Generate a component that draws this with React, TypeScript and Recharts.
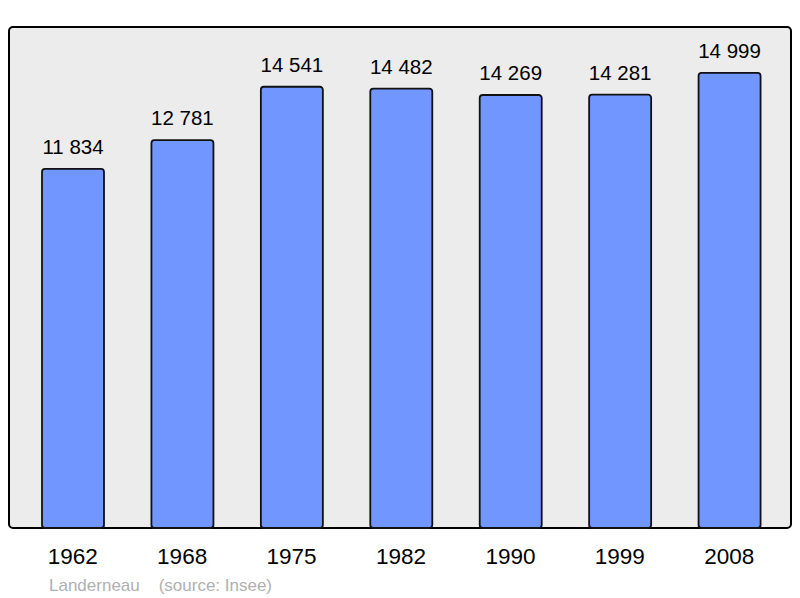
import React from 'react';
import { BarChart, Bar, XAxis, YAxis, LabelList } from 'recharts';

const years = ['1962', '1968', '1975', '1982', '1990', '1999', '2008'];
const population = [11834, 12781, 14541, 14482, 14269, 14281, 14999];

const data = years.map((year, i) => ({ year, population: population[i] }));

const fmt = (v: number) => String(v).replace(/\B(?=(\d{3})+(?!\d))/g, ' ');

const font = '"Liberation Sans", Arial, sans-serif';

export default function App() {
  return (
    <div style={{ position: 'absolute', left: 0, top: 0, width: 800, height: 598, background: '#fff', fontFamily: font }}>
      <div
        style={{
          position: 'absolute',
          left: 8,
          top: 26,
          width: 780,
          height: 499,
          background: '#ececec',
          border: '2px solid #000',
          borderRadius: 5,
        }}
      />
      <div style={{ position: 'absolute', left: 0, top: 0 }}>
        <BarChart width={800} height={598} data={data} margin={{ top: 27, right: 9, left: 9, bottom: 40 }} barCategoryGap={0}>
          <XAxis
            dataKey="year"
            height={30}
            axisLine={false}
            tickLine={false}
            tickSize={0}
            tickMargin={20}
            padding={{ left: 9, right: 7 }}
            tick={{ fontSize: 22.5, fill: '#000', fontFamily: font }}
          />
          <YAxis hide domain={[0, 16510]} />
          <Bar dataKey="population" fill="#7196ff" stroke="#111" strokeWidth={1.8} barSize={62} radius={3} isAnimationActive={false}>
            <LabelList dataKey="population" position="top" offset={15} formatter={(v: any) => fmt(Number(v))} style={{ fontSize: 20.5, fill: '#000', fontFamily: font }} />
          </Bar>
        </BarChart>
      </div>
      <div style={{ position: 'absolute', left: 49, top: 576, fontSize: 17, color: '#b0b0b0', whiteSpace: 'pre' }}>
        {'Landerneau    (source: Insee)'}
      </div>
    </div>
  );
}
